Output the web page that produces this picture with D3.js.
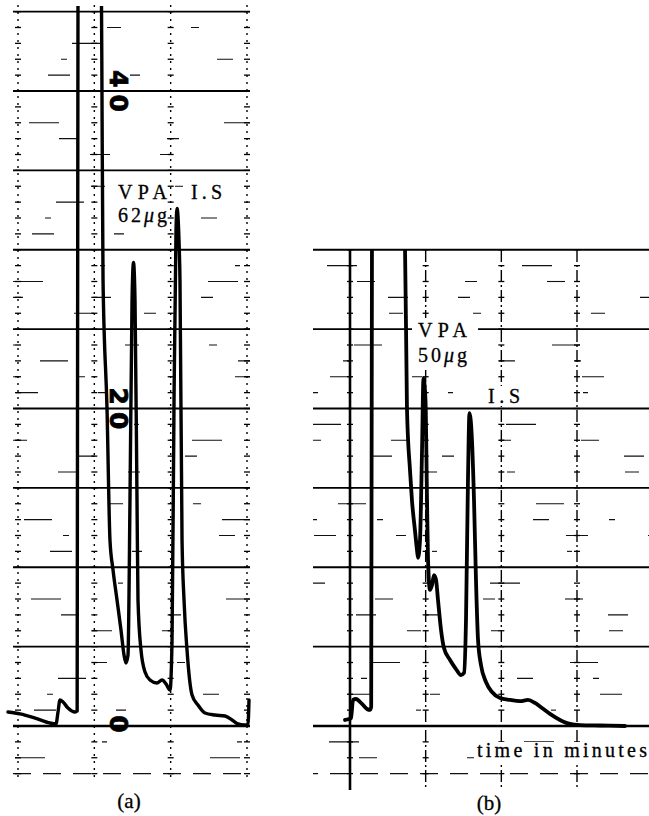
<!DOCTYPE html>
<html>
<head>
<meta charset="utf-8">
<script src="https://cdn.jsdelivr.net/npm/d3@7"></script>
<style>
  body { margin: 0; background: #fff; }
  svg { display: block; }
</style>
</head>
<body>
<svg id="chart" width="649" height="816"></svg>
<script>
// Recorder response (chart divisions) against time (minutes) for two injections

const yTickValues = [0, 20, 40];
const yTickLabels = ["0", "20", "40"];

// Run (a): 62 µg VPA with internal standard
const timeA = [
  -0.131, 0.026, 0.223, 0.419, 0.498, 0.524, 0.550, 0.590, 0.655, 0.747,
  0.775, 0.786, 0.943, 1.093, 1.100, 1.114, 1.166, 1.205, 1.245, 1.297,
  1.349, 1.389, 1.415, 1.441, 1.467, 1.494, 1.513, 1.533, 1.559, 1.572,
  1.611, 1.664, 1.729, 1.821, 1.887, 1.939, 1.992, 2.018, 2.044, 2.070,
  2.083, 2.109, 2.122, 2.149, 2.175, 2.214, 2.280, 2.358, 2.450, 2.581,
  2.712, 2.804, 2.882, 2.961, 3.013, 3.026
];
const responseA = [
  0.88, 0.76, 0.50, 0.19, 0.13, 0.88, 1.64, 1.51, 1.13, 0.88,
  0.94, 46, 58, 46, 40, 28.1, 20.0, 11.7, 9.83, 7.94,
  6.05, 4.47, 3.97, 4.47, 14.2, 26.8, 29.2, 26.8, 14.2, 7.94,
  4.79, 3.40, 2.90, 2.71, 2.90, 2.65, 2.27, 5.42, 20.5, 31.2,
  32.6, 30.6, 28.1, 11.7, 7.94, 4.79, 1.95, 1.32, 0.82, 0.69,
  0.63, 0.38, 0.13, 0.06, 0.10, 1.64
];

// Run (b): 50 µg VPA with internal standard
const timeB = [
  -0.066, -0.013, 0.013, 0.040, 0.079, 0.159, 0.225, 0.264, 0.280, 0.291,
  0.500, 0.722, 0.753, 0.793, 0.819, 0.859, 0.885, 0.899, 0.925, 0.952,
  0.971, 0.998, 1.018, 1.031, 1.057, 1.084, 1.110, 1.137, 1.163, 1.203,
  1.242, 1.322, 1.401, 1.467, 1.507, 1.533, 1.559, 1.579, 1.612, 1.639,
  1.665, 1.692, 1.731, 1.797, 1.877, 1.982, 2.115, 2.247, 2.352, 2.445,
  2.537, 2.643, 2.775, 2.907, 3.040, 3.304, 3.634
];
const responseB = [
  0.38, 0.44, 0.50, 1.64, 1.70, 1.39, 1.07, 1.01, 1.20, 32,
  42, 32, 19.97, 16.1, 14.2, 12.3, 11.1, 10.6, 11.7, 17.4,
  21.9, 20.5, 14.2, 10.5, 8.57, 8.88, 9.51, 9.20, 7.94, 6.05,
  4.91, 4.16, 3.59, 3.21, 3.34, 6.68, 15.5, 19.7, 18.0, 14.2,
  9.2, 5.42, 3.84, 2.77, 2.14, 1.76, 1.64, 1.57, 1.64, 1.45,
  1.13, 0.76, 0.38, 0.13, 0.06, 0.03, 0
];

const annotationsA = ["VPA", "62", "I.S"];
const annotationsB = ["VPA", "50", "I.S"];
const panelCaptions = ["(a)", "(b)"];
const timeAxisTitle = "time in minutes";

const svg = d3.select("#chart");
svg.append("rect").attr("width", 649).attr("height", 816).attr("fill", "#fff");

const y = d3.scaleLinear().domain([0, 40]).range([726, 91]);

const panels = [
  { id: "a", x: d3.scaleLinear().domain([0, 3]).range([18, 247]),
    left: 13, right: 250, topValue: 45, clipTop: 6, vTop: 5, vBottom: 782,
    solidFirst: false, time: timeA, resp: responseA },
  { id: "b", x: d3.scaleLinear().domain([0, 3]).range([350, 577]),
    left: 313, right: 649, topValue: 30, clipTop: 249, vTop: 250, vBottom: 790,
    solidFirst: true, time: timeB, resp: responseB }
];

// broken rulings of the chart paper: only a few short dashes survive per line
const minorPatterns = [
  "12 70 18 90", "0 40 22 60 10 120", "8 110 14 70", "0 25 30 140",
  "16 60 6 150", "0 90 20 50 12 80", "5 130", "0 60 28 110"
];

panels.forEach((p, pi) => {
  const g = svg.append("g").attr("class", "panel-" + p.id);
  const grid = g.append("g").attr("class", "grid");

  const minorVals = d3.range(-3, p.topValue + 1).filter(v => v % 5 !== 0 || v === -3);
  grid.selectAll("line.minor").data(minorVals).join("line")
    .attr("class", "minor")
    .attr("x1", p.left).attr("x2", p.right)
    .attr("y1", d => y(d)).attr("y2", d => y(d))
    .attr("stroke", "#111")
    .attr("stroke-width", d => d === -3 ? 1.3 : 1.1)
    .attr("stroke-dasharray", (d, i) => d === -3 ? "18 12" : minorPatterns[(i * 3 + pi * 5) % minorPatterns.length])
    .attr("stroke-dashoffset", (d, i) => (i * 23 + pi * 13) % 50);

  // major rulings every five divisions
  const majorVals = d3.range(0, p.topValue + 1, 5);
  grid.selectAll("line.major").data(majorVals).join("line")
    .attr("class", "major")
    .attr("x1", p.left).attr("x2", p.right)
    .attr("y1", d => y(d)).attr("y2", d => y(d))
    .attr("stroke", "#000")
    .attr("stroke-width", d => d === 0 ? 2.4 : 1.9);

  // time rulings (one per minute)
  const timeVals = d3.range(0, 4);
  grid.selectAll("line.time").data(timeVals).join("line")
    .attr("class", "time")
    .attr("x1", d => p.x(d)).attr("x2", d => p.x(d))
    .attr("y1", p.vTop).attr("y2", p.vBottom)
    .attr("stroke", "#000")
    .attr("stroke-width", (d, i) => (p.solidFirst && i === 0) ? 2.6 : 1.4)
    .attr("stroke-dasharray", (d, i) => (p.solidFirst && i === 0) ? null : (p.id === "a" ? "2 5" : "12 3 2 3"));

  // tick marks along the time rulings at each division
  const tickVals = d3.range(-3, p.topValue + 1);
  timeVals.forEach(tv => {
    grid.append("g").selectAll("line").data(tickVals).join("line")
      .attr("x1", p.x(tv) - 3).attr("x2", p.x(tv) + 3)
      .attr("y1", d => y(d)).attr("y2", d => y(d))
      .attr("stroke", "#000").attr("stroke-width", 1.3);
  });

  // recorder trace
  const clipId = "clip-" + p.id;
  svg.append("clipPath").attr("id", clipId)
    .append("rect").attr("x", 0).attr("y", p.clipTop).attr("width", 649).attr("height", 800 - p.clipTop);

  const pts = p.time.map((t, i) => [t, p.resp[i]]);
  const line = d3.line()
    .x(d => p.x(d[0]))
    .y(d => y(d[1]))
    .curve(d3.curveMonotoneX);

  g.append("path")
    .datum(pts)
    .attr("clip-path", `url(#${clipId})`)
    .attr("d", line)
    .attr("fill", "none")
    .attr("stroke", "#000")
    .attr("stroke-width", p.id === "a" ? 3.4 : 3.8)
    .attr("stroke-linejoin", "round")
    .attr("stroke-linecap", "round");
});

// hand-written chart division labels on run (a)
const xa = panels[0].x;
svg.append("g").selectAll("text").data(yTickValues).join("text")
  .attr("transform", d => `translate(${xa(1.32)},${y(d) - (d === 0 ? 2 : 0)}) rotate(90)`)
  .attr("text-anchor", "middle")
  .attr("dominant-baseline", "central")
  .attr("font-family", "DejaVu Sans, sans-serif")
  .attr("font-weight", "bold")
  .attr("font-size", 25)
  .attr("textLength", d => d === 0 ? null : 42)
  .attr("lengthAdjust", "spacing")
  .attr("fill", "#000")
  .attr("stroke", "#000").attr("stroke-width", 0.8)
  .text((d, i) => yTickLabels[i]);

const serif = "Liberation Serif, Times New Roman, serif";

function muLabel(sel, x, yy, num, len, size) {
  const t = sel.append("text")
    .attr("x", x).attr("y", yy)
    .attr("font-family", serif).attr("font-size", size)
    .attr("textLength", len).attr("lengthAdjust", "spacing")
    .attr("fill", "#000").attr("stroke", "#000").attr("stroke-width", 0.3);
  t.append("tspan").text(num);
  t.append("tspan").attr("font-style", "italic").text("\u03bc");
  t.append("tspan").text("g");
}

function plainLabel(sel, x, yy, txt, len, size) {
  return sel.append("text")
    .attr("x", x).attr("y", yy)
    .attr("font-family", serif).attr("font-size", size)
    .attr("textLength", len).attr("lengthAdjust", "spacing")
    .attr("fill", "#000").attr("stroke", "#000").attr("stroke-width", 0.3)
    .text(txt);
}

// peak annotations, run (a)
const ann = svg.append("g");
plainLabel(ann, 118, 199, annotationsA[0], 49, 20);
plainLabel(ann, 191, 199, annotationsA[2], 31, 20);
muLabel(ann, 118, 222, annotationsA[1], 49, 20);

// peak annotations, run (b) — paper blanked behind the lettering
ann.append("rect").attr("x", 412).attr("y", 318).attr("width", 66).attr("height", 50).attr("fill", "#fff");
ann.append("rect").attr("x", 485).attr("y", 386).attr("width", 38).attr("height", 20).attr("fill", "#fff");
plainLabel(ann, 418, 337, annotationsB[0], 49, 20);
muLabel(ann, 418, 362, annotationsB[1], 49, 20);
plainLabel(ann, 488, 403, annotationsB[2], 32, 20);

// time axis title
ann.append("rect").attr("x", 474).attr("y", 742).attr("width", 175).attr("height", 20).attr("fill", "#fff");
ann.append("text")
  .attr("x", 477).attr("y", 757)
  .attr("font-family", serif).attr("font-size", 20)
  .attr("textLength", 170).attr("lengthAdjust", "spacing")
  .attr("fill", "#000").attr("stroke", "#000").attr("stroke-width", 0.3)
  .text(timeAxisTitle);

// panel captions
svg.append("g").selectAll("text").data(panelCaptions).join("text")
  .attr("x", (d, i) => i === 0 ? 129 : 489)
  .attr("y", (d, i) => i === 0 ? 808 : 810)
  .attr("text-anchor", "middle")
  .attr("font-family", serif).attr("font-size", 21)
  .attr("fill", "#000").attr("stroke", "#000").attr("stroke-width", 0.3)
  .text(d => d);
</script>
</body>
</html>
